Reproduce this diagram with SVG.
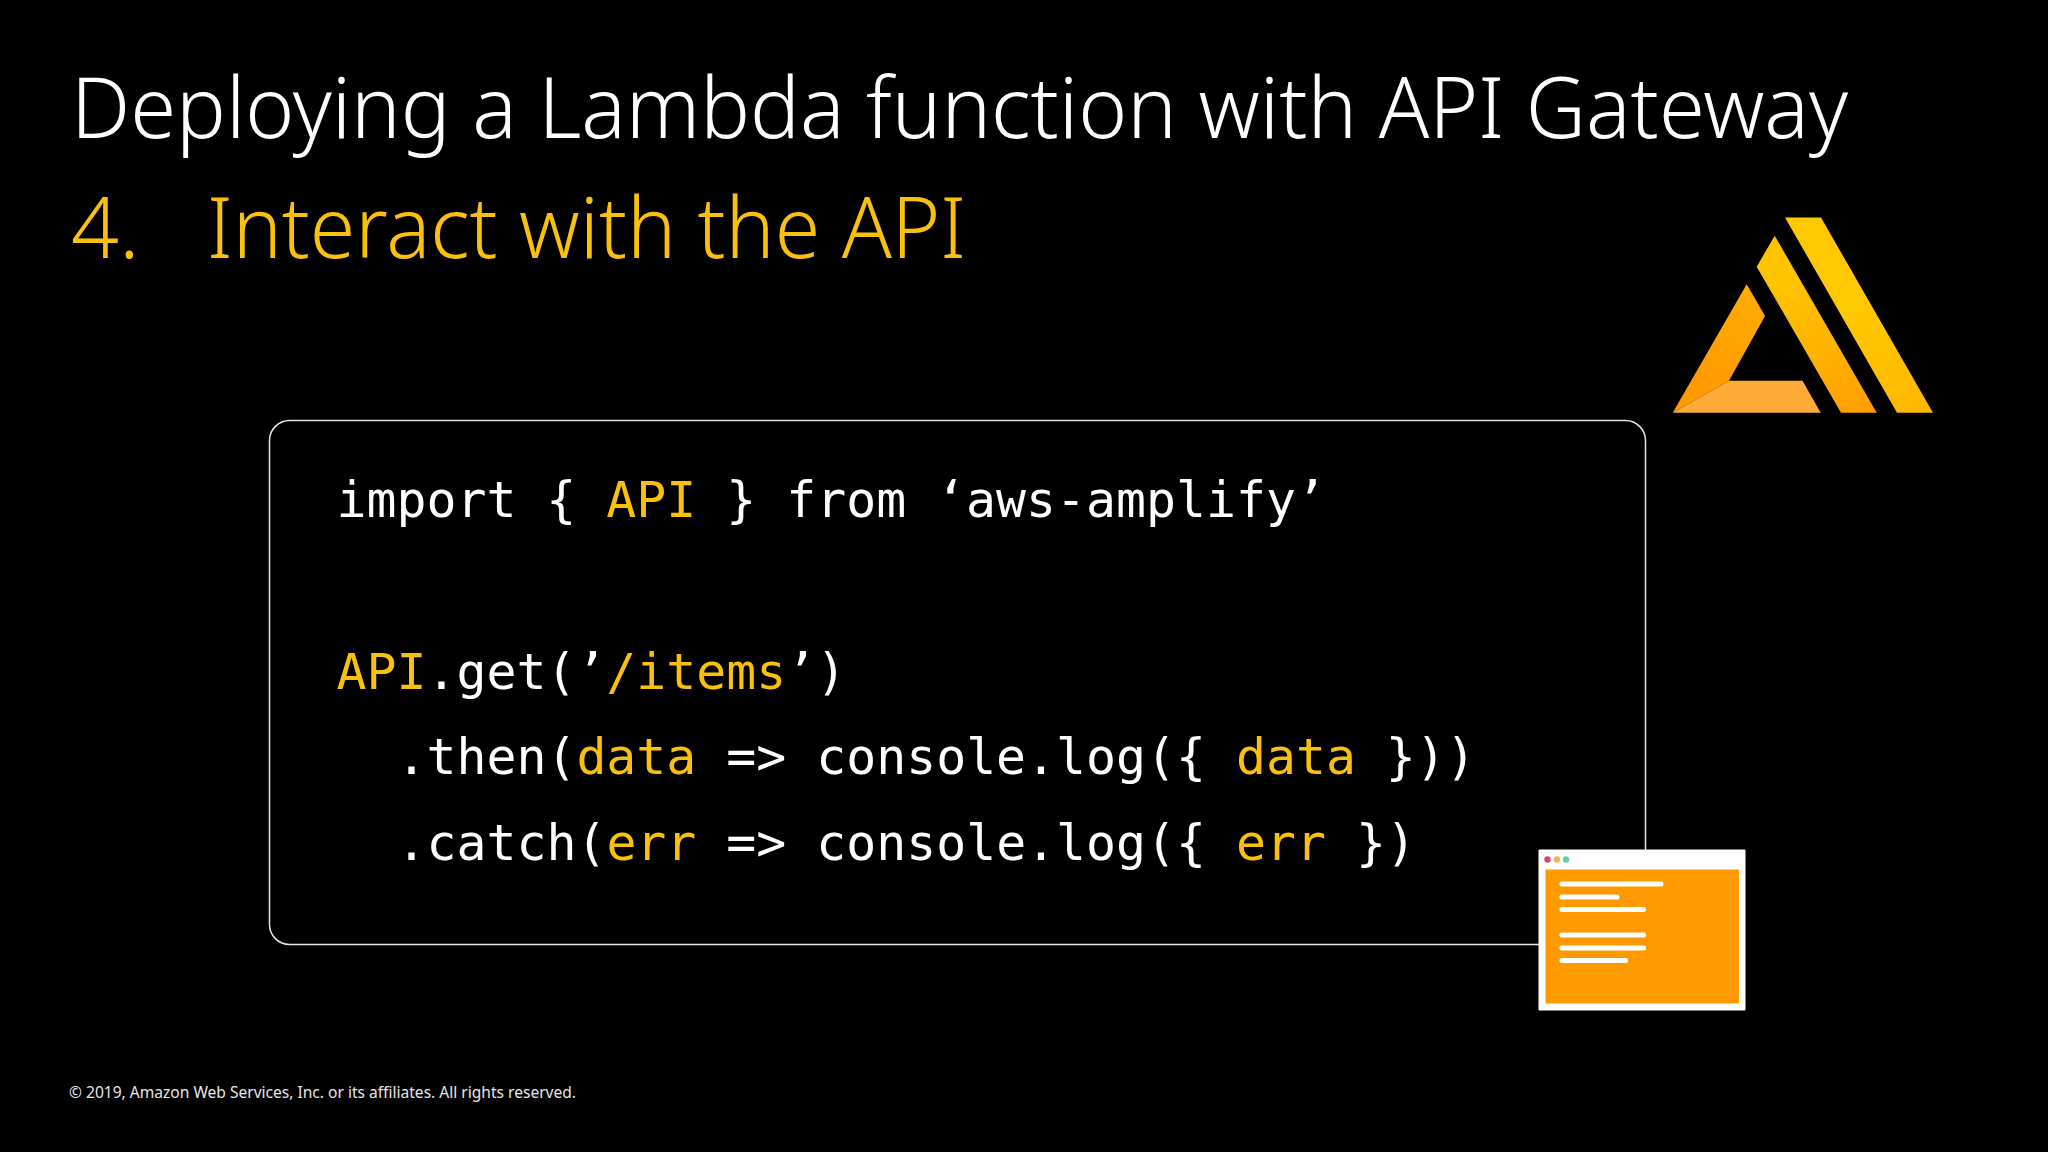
<svg xmlns="http://www.w3.org/2000/svg" width="2048" height="1152" viewBox="0 0 2048 1152">
<style>
.t{font-family:"Noto Sans","Open Sans",sans-serif;font-weight:300}
.c{font-family:"DejaVu Sans Mono",monospace;font-size:49.8px;fill:#fff;white-space:pre}
.y{fill:#f9c10c}
.w{fill:#fff}
</style>
<defs>
<linearGradient id="g" gradientUnits="userSpaceOnUse" x1="1700" y1="390" x2="1770" y2="280"><stop offset="0" stop-color="#ff9900"/><stop offset="1" stop-color="#ffb000"/></linearGradient>
<linearGradient id="g2" gradientUnits="userSpaceOnUse" x1="1850" y1="415" x2="1780" y2="290"><stop offset="0" stop-color="#ffa000"/><stop offset="1" stop-color="#ffc400"/></linearGradient>
<linearGradient id="g3" gradientUnits="userSpaceOnUse" x1="1915" y1="410" x2="1860" y2="310"><stop offset="0" stop-color="#ffb800"/><stop offset="1" stop-color="#ffc800"/></linearGradient>
</defs>
<rect width="2048" height="1152" fill="#000"/>
<g id="title">
<text class="t" x="71" y="138" font-size="84" fill="#fff" textLength="1777" lengthAdjust="spacingAndGlyphs">Deploying a Lambda function with API Gateway</text>
<text class="t y" x="71" y="258" font-size="84">4.</text>
<text class="t y" x="207" y="258" font-size="84" textLength="759" lengthAdjust="spacingAndGlyphs">Interact with the API</text>
</g>
<g id="logo">
<path d="M1785 217.500H1821L1933 412.700H1897Z" fill="url(#g3)"/>
<path d="M1774.700 235.700L1756.700 266.700L1841 412.700H1876.700Z" fill="url(#g2)"/>
<path d="M1746.700 284.300L1765 316L1729 380.700L1672.700 412.700Z" fill="url(#g)"/>
<path d="M1672.700 412.700L1729 380.700H1802.500L1820.700 412.700Z" fill="#ffab38"/>
</g>
<g id="code-box">
<rect x="269.500" y="420.500" width="1376" height="524" rx="20" fill="none" stroke="#e6e6e6" stroke-width="1.500"/>
<text class="c" x="336.500" y="517">import { <tspan class="y">API</tspan> } from ‘aws-amplify’</text>
<text class="c" x="336.500" y="689"><tspan class="y">API</tspan>.get(’<tspan class="y">/items</tspan>’)</text>
<text class="c" x="396.500" y="774">.then(<tspan class="y">data</tspan> =&gt; console.log({ <tspan class="y">data</tspan> }))</text>
<text class="c" x="396.500" y="859.500">.catch(<tspan class="y">err</tspan> =&gt; console.log({ <tspan class="y">err</tspan> })</text>
</g>
<g id="browser-window">
<rect x="1538.500" y="849.500" width="207" height="161" rx="1" fill="#fff"/>
<rect x="1545.500" y="869.500" width="193.500" height="134" fill="#ff9900"/>
<circle cx="1547.500" cy="859.500" r="3.200" fill="#d6476b"/>
<circle cx="1557" cy="859.500" r="3.200" fill="#e8b84a"/>
<circle cx="1566" cy="859.500" r="3.200" fill="#5fcfa5"/>
<rect class="w" x="1559.500" y="881.500" width="104" height="5" rx="2"/>
<rect class="w" x="1559.500" y="894.500" width="60" height="5" rx="2"/>
<rect class="w" x="1559.500" y="907" width="86.500" height="5" rx="2"/>
<rect class="w" x="1559.500" y="932.500" width="86.500" height="5" rx="2"/>
<rect class="w" x="1559.500" y="945.500" width="86.500" height="5" rx="2"/>
<rect class="w" x="1559.500" y="958" width="68.500" height="5" rx="2"/>
</g>
<text id="footer" x="69" y="1098" font-family="'Noto Sans',sans-serif" font-size="15.500" fill="#e6e6e6" textLength="507" lengthAdjust="spacingAndGlyphs">© 2019, Amazon Web Services, Inc. or its affiliates. All rights reserved.</text>
</svg>
